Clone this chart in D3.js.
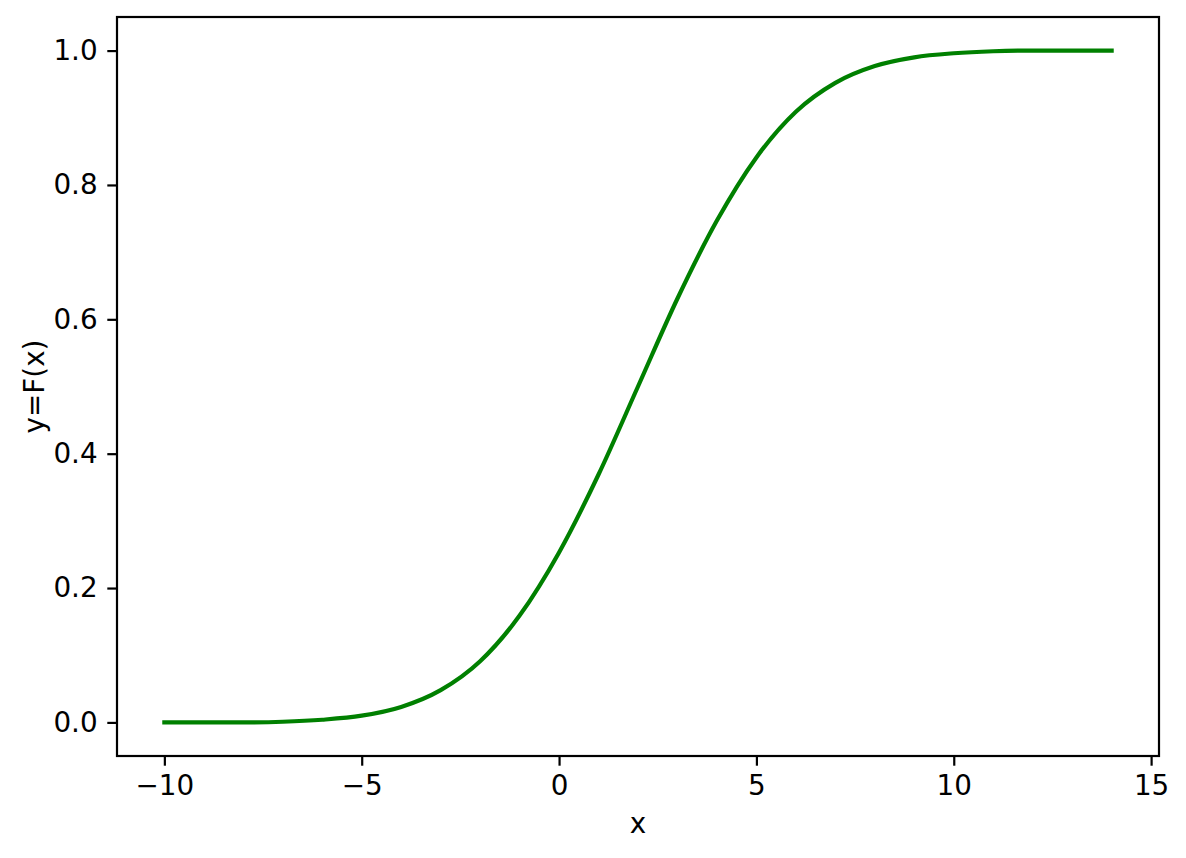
<!DOCTYPE html>
<html>
<head>
<meta charset="utf-8">
<script src="https://cdn.jsdelivr.net/npm/d3@7"></script>
<style>
  body { margin: 0; background: #fff; }
  text { font-family: "DejaVu Sans", sans-serif; fill: #000; }
</style>
</head>
<body>
<div id="chart"></div>
<script>
// values
var xValues = [-10, -9, -8, -7, -6, -5, -4, -3, -2, -1, 0, 1, 2, 3, 4, 5, 6, 7, 8, 9, 10, 11, 12, 13, 14];
var yValues = [0.000, 0.000, 0.000, 0.001, 0.004, 0.010, 0.023, 0.048, 0.091, 0.159, 0.253, 0.369, 0.500,
               0.631, 0.747, 0.841, 0.909, 0.952, 0.977, 0.990, 0.996, 0.999, 1.000, 1.000, 1.000];
var xTicks = [-10, -5, 0, 5, 10, 15];
var yTicks = [0.0, 0.2, 0.4, 0.6, 0.8, 1.0];
var xLabel = 'x';
var yLabel = 'y=F(x)';

var width = 1186, height = 858;
var plotLeft = 117, plotRight = 1159, plotTop = 17, plotBottom = 756;
var fontSize = 27.8, tickLen = 9.7, pad = 9.7;

var svg = d3.select('#chart').append('svg')
  .attr('width', width)
  .attr('height', height);

var x = d3.scaleLinear().domain([-11.2, 15.2]).range([plotLeft, plotRight]);
var y = d3.scaleLinear().domain([-0.05, 1.05]).range([plotBottom, plotTop]);

var points = xValues.map(function(v, i) { return [v, yValues[i]]; });

var line = d3.line()
  .x(function(d) { return x(d[0]); })
  .y(function(d) { return y(d[1]); })
  .curve(d3.curveMonotoneX);

svg.append('path')
  .datum(points)
  .attr('d', line)
  .attr('fill', 'none')
  .attr('stroke', '#008000')
  .attr('stroke-width', 4.2)
  .attr('stroke-linecap', 'square');

var xAxis = svg.append('g')
  .attr('transform', 'translate(0,' + plotBottom + ')')
  .call(d3.axisBottom(x).tickValues(xTicks).tickSize(tickLen).tickPadding(pad)
    .tickFormat(function(d) { return d < 0 ? '\u2212' + Math.abs(d) : d; }));

var yAxis = svg.append('g')
  .attr('transform', 'translate(' + plotLeft + ',0)')
  .call(d3.axisLeft(y).tickValues(yTicks).tickSize(tickLen).tickPadding(pad)
    .tickFormat(d3.format('.1f')));

[xAxis, yAxis].forEach(function(g) {
  g.select('.domain').remove();
  g.selectAll('.tick line').attr('stroke', '#000').attr('stroke-width', 2.2);
  g.selectAll('.tick text')
    .style('font-size', fontSize + 'px')
    .style('font-family', '"DejaVu Sans", sans-serif')
    .attr('fill', '#000');
});

svg.append('rect')
  .attr('x', plotLeft)
  .attr('y', plotTop)
  .attr('width', plotRight - plotLeft)
  .attr('height', plotBottom - plotTop)
  .attr('fill', 'none')
  .attr('stroke', '#000')
  .attr('stroke-width', 2.2);

svg.append('text')
  .attr('x', (plotLeft + plotRight) / 2)
  .attr('y', 833)
  .attr('text-anchor', 'middle')
  .style('font-size', fontSize + 'px')
  .text(xLabel);

svg.append('text')
  .attr('transform', 'translate(44,' + ((plotTop + plotBottom) / 2) + ') rotate(-90)')
  .attr('text-anchor', 'middle')
  .style('font-size', fontSize + 'px')
  .text(yLabel);
</script>
</body>
</html>
